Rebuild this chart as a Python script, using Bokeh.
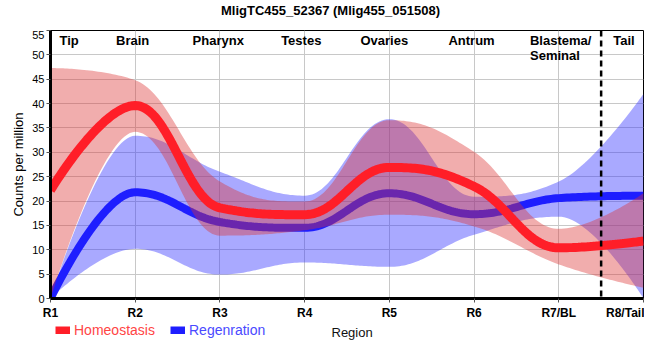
import numpy as np
from bokeh.plotting import figure
from bokeh.layouts import column
from bokeh.models import Range1d, FixedTicker, Span, Label, Legend, LegendItem
from bokeh.embed import file_html
from bokeh.resources import INLINE

# ---------------- data ----------------
title_text = "MligTC455_52367 (Mlig455_051508)"
region_labels = ["R1", "R2", "R3", "R4", "R5", "R6", "R7/BL", "R8/Tail"]
region_pos = [1, 2, 3, 4, 5, 6, 7, 8]
tissues = ["Tip", "Brain", "Pharynx", "Testes", "Ovaries", "Antrum", "Blastema/\nSeminal", "Tail"]

homeostasis = [22.2, 39.6, 18.6, 17.2, 26.9, 23.0, 10.4, 11.8]
homeostasis_hi = [47.3, 44.8, 24.0, 19.9, 36.6, 30.1, 14.3, 21.6]
homeostasis_lo = [0.0, 34.2, 12.9, 14.0, 17.2, 14.8, 7.0, 2.2]

regeneration = [0.0, 21.8, 15.7, 14.5, 21.6, 17.3, 20.6, 21.1]
regeneration_hi = [0.0, 33.4, 26.0, 21.1, 36.8, 20.9, 24.0, 42.0]
regeneration_lo = [0.0, 10.2, 4.9, 7.4, 6.5, 13.1, 16.8, 0.0]

tail_boundary = 7.5

# ---------------- smoothing (spline rendering of the series) ----------------
def spline(xs, ys, smoothing=1.5, n=40):
    xs = [float(v) for v in xs]
    ys = [float(v) for v in ys]
    N = len(xs)
    d = smoothing + 1.0
    lc = [(xs[i], ys[i]) for i in range(N)]
    rc = [(xs[i], ys[i]) for i in range(N)]
    for i in range(1, N - 1):
        x, y = xs[i], ys[i]
        lx = (smoothing * x + xs[i - 1]) / d
        ly = (smoothing * y + ys[i - 1]) / d
        rx = (smoothing * x + xs[i + 1]) / d
        ry = (smoothing * y + ys[i + 1]) / d
        corr = (ry - ly) * (rx - x) / (rx - lx) + y - ry
        ly += corr
        ry += corr
        if ly > ys[i - 1] and ly > y:
            ly = max(ys[i - 1], y); ry = 2 * y - ly
        elif ly < ys[i - 1] and ly < y:
            ly = min(ys[i - 1], y); ry = 2 * y - ly
        if ry > ys[i + 1] and ry > y:
            ry = max(ys[i + 1], y); ly = 2 * y - ry
        elif ry < ys[i + 1] and ry < y:
            ry = min(ys[i + 1], y); ly = 2 * y - ry
        lc[i] = (lx, ly)
        rc[i] = (rx, ry)
    ox, oy = [], []
    t = np.linspace(0, 1, n)
    for i in range(N - 1):
        p0 = (xs[i], ys[i]); p1 = rc[i]; p2 = lc[i + 1]; p3 = (xs[i + 1], ys[i + 1])
        tt = t if i == 0 else t[1:]
        a = (1 - tt) ** 3; b = 3 * (1 - tt) ** 2 * tt; c = 3 * (1 - tt) * tt ** 2; e = tt ** 3
        ox.extend(a * p0[0] + b * p1[0] + c * p2[0] + e * p3[0])
        oy.extend(a * p0[1] + b * p1[1] + c * p2[1] + e * p3[1])
    return np.array(ox), np.array(oy)

sx, h_line = spline(region_pos, homeostasis)
_, h_hi = spline(region_pos, homeostasis_hi)
_, h_lo = spline(region_pos, homeostasis_lo)
_, r_line = spline(region_pos, regeneration)
_, r_hi = spline(region_pos, regeneration_hi)
_, r_lo = spline(region_pos, regeneration_lo)

FONT = "Liberation Sans"
RED_LINE = "#ff1e28"
BLUE_LINE = "#1e1eff"
W = 644
LEFT, RIGHT = 50, 1


def strip(height):
    s = figure(width=W, height=height, output_backend="svg", toolbar_location=None,
               x_range=Range1d(LEFT, W - RIGHT), y_range=Range1d(0, height),
               x_axis_location=None, y_axis_location=None,
               min_border=0, min_border_left=LEFT, min_border_right=RIGHT,
               min_border_top=0, min_border_bottom=0)
    s.outline_line_color = None
    s.grid.visible = False
    s.background_fill_color = "white"
    s.border_fill_color = "white"
    return s

# ---------------- title strip ----------------
top = strip(30)
top.add_layout(Label(x=330, y=20, text=title_text, text_align="center",
                     text_baseline="middle", text_font=FONT, text_font_size="13px",
                     text_font_style="bold", text_color="black"))

# ---------------- main plot ----------------
p = figure(width=W, height=292, output_backend="svg", toolbar_location=None,
           x_range=Range1d(1, 8), y_range=Range1d(0, 55),
           min_border_left=LEFT, min_border_right=RIGHT, min_border_top=0, min_border_bottom=22)

p.background_fill_color = "white"
p.border_fill_color = "white"
p.outline_line_color = "black"
p.outline_line_width = 1
p.outline_line_alpha = 1

# bands and lines
p.varea(x=sx, y1=r_lo, y2=r_hi, fill_color="#3333ff", fill_alpha=0.42)
reg_r = p.line(sx, r_line, line_color=BLUE_LINE, line_width=8)
p.varea(x=sx, y1=h_lo, y2=h_hi, fill_color="#dd3333", fill_alpha=0.4)
hom_r = p.line(sx, h_line, line_color=RED_LINE, line_width=9)

p.add_layout(Span(location=tail_boundary, dimension="height", line_color="black",
                  line_width=2.5, line_dash="6 4"))

# axes
p.xaxis.ticker = FixedTicker(ticks=region_pos)
p.xaxis.major_label_overrides = {pos: lab for pos, lab in zip(region_pos, region_labels)}
p.xaxis.major_label_text_font = FONT
p.xaxis.major_label_text_font_size = "12px"
p.xaxis.major_label_text_font_style = "bold"
p.xaxis.major_label_text_color = "black"
p.xaxis.major_label_standoff = 3
p.xaxis.axis_line_width = 3
p.xaxis.axis_line_color = "black"
p.xaxis.major_tick_out = 4
p.xaxis.major_tick_in = 0
p.xaxis.major_tick_line_color = "#555555"
p.xaxis.minor_tick_line_color = None

p.yaxis.ticker = FixedTicker(ticks=list(range(0, 56, 5)))
p.yaxis.major_label_text_font = FONT
p.yaxis.major_label_text_font_size = "11px"
p.yaxis.major_label_text_color = "black"
p.yaxis.major_label_standoff = 2
p.yaxis.axis_line_width = 3
p.yaxis.axis_line_color = "black"
p.yaxis.major_tick_out = 4
p.yaxis.major_tick_in = 0
p.yaxis.major_tick_line_color = "#555555"
p.yaxis.minor_tick_line_color = None
p.yaxis.axis_label = "Counts per million"
p.yaxis.axis_label_text_font = FONT
p.yaxis.axis_label_text_font_size = "13px"
p.yaxis.axis_label_text_font_style = "normal"
p.yaxis.axis_label_text_color = "black"
p.yaxis.axis_label_standoff = 3

p.grid.grid_line_color = "#c8c8c8"
p.grid.grid_line_width = 1
p.xgrid.ticker = FixedTicker(ticks=region_pos)
p.ygrid.ticker = FixedTicker(ticks=list(range(0, 56, 5)))

# tissue labels along the top
tissue_x = [1.22, 1.97, 2.98, 3.96, 4.94, 5.97, 6.66, 7.77]
tissue_align = ["center", "center", "center", "center", "center", "center", "left", "center"]
for name, tx, al in zip(tissues, tissue_x, tissue_align):
    for k, line in enumerate(name.split("\n")):
        p.add_layout(Label(x=tx, y=53.0 - k * 3.05, text=line, text_align=al,
                           text_baseline="middle", text_font=FONT,
                           text_font_size="13px", text_font_style="bold",
                           text_color="black"))

# ---------------- legend strip below the plot ----------------
q = strip(22)
leg_hom = q.line([np.nan], [np.nan], line_color=RED_LINE, line_width=8)
leg_reg = q.line([np.nan], [np.nan], line_color=BLUE_LINE, line_width=8)

def make_legend(label, rend, color, loc):
    return Legend(items=[LegendItem(label=label, renderers=[rend])], location=loc,
                  orientation="horizontal", padding=0, margin=0, spacing=0,
                  border_line_color=None, background_fill_alpha=0,
                  label_text_color=color, label_text_font=FONT,
                  label_text_font_size="14px", glyph_width=15, glyph_height=8,
                  label_standoff=4, label_height=16)

q.add_layout(make_legend("Homeostasis", leg_hom, "#ff4545", (5, 6)), "center")
q.add_layout(make_legend("Regenration", leg_reg, "#4a4aff", (120, 6)), "center")
q.add_layout(Label(x=331, y=12, text="Region", text_align="left",
                   text_baseline="middle", text_font=FONT, text_font_size="13px",
                   text_color="#111111"))

layout = column(top, p, q, spacing=0)
open("out.html", "w").write(file_html(layout, INLINE))
